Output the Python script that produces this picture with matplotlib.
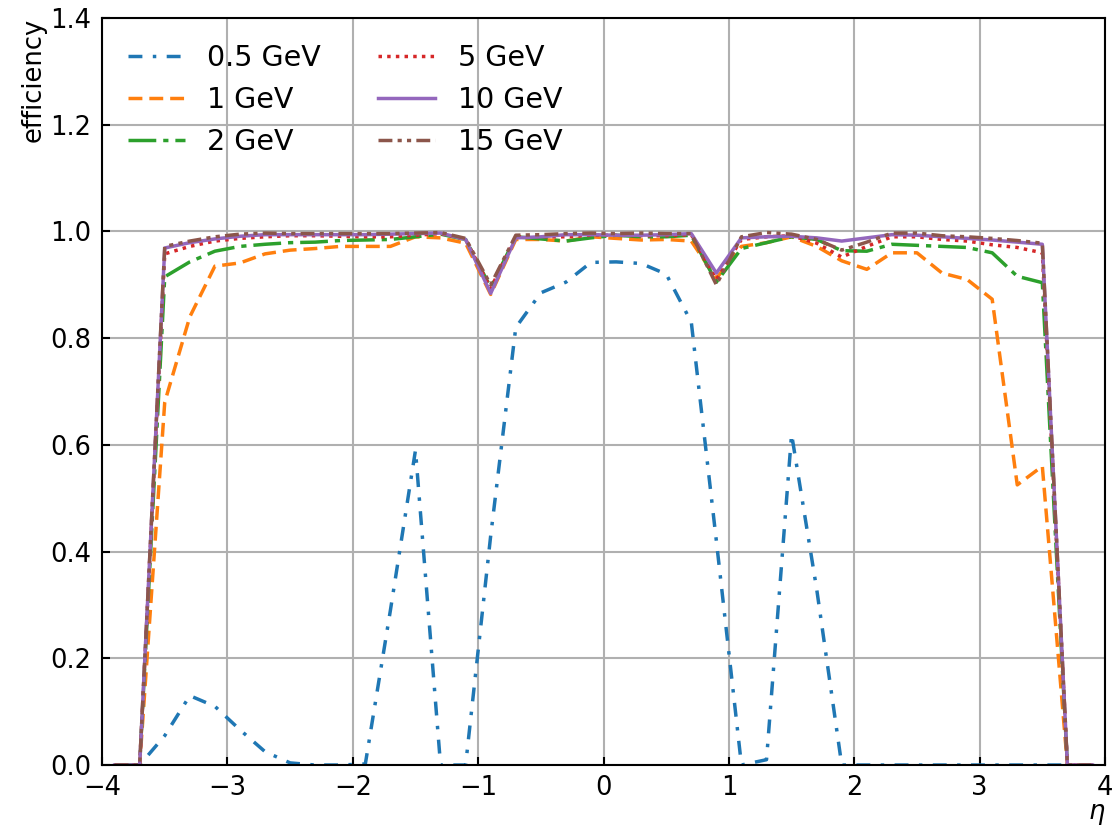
import matplotlib
matplotlib.use("Agg")
import matplotlib.pyplot as plt

eta = [-3.9, -3.7, -3.5, -3.3, -3.1, -2.9, -2.7, -2.5, -2.3, -2.1,
       -1.9, -1.7, -1.5, -1.3, -1.1, -0.9, -0.7, -0.5, -0.3, -0.1,
       0.1, 0.3, 0.5, 0.7, 0.9, 1.1, 1.3, 1.5, 1.7, 1.9,
       2.1, 2.3, 2.5, 2.7, 2.9, 3.1, 3.3, 3.5, 3.7, 3.9]

eff_0p5 = [0.0, 0.0, 0.055, 0.13, 0.11, 0.066, 0.025, 0.004, 0.0, 0.0,
           0.002, 0.29, 0.59, 0.0, 0.0, 0.43, 0.82, 0.885, 0.905, 0.942,
           0.943, 0.94, 0.92, 0.83, 0.42, 0.0, 0.01, 0.62, 0.33, 0.0,
           0.0, 0.0, 0.0, 0.0, 0.0, 0.0, 0.0, 0.0, 0.0, 0.0]

eff_1 = [0.0, 0.0, 0.68, 0.84, 0.935, 0.941, 0.958, 0.965, 0.968, 0.972,
         0.972, 0.972, 0.99, 0.988, 0.978, 0.882, 0.985, 0.985, 0.982, 0.99,
         0.987, 0.984, 0.985, 0.982, 0.912, 0.972, 0.979, 0.99, 0.972, 0.945,
         0.929, 0.96, 0.96, 0.922, 0.91, 0.873, 0.525, 0.56, 0.0, 0.0]

eff_2 = [0.0, 0.0, 0.915, 0.943, 0.963, 0.972, 0.976, 0.979, 0.98, 0.983,
         0.984, 0.985, 0.99, 0.995, 0.985, 0.895, 0.99, 0.986, 0.982, 0.988,
         0.993, 0.99, 0.99, 0.993, 0.905, 0.968, 0.979, 0.99, 0.985, 0.964,
         0.963, 0.976, 0.974, 0.972, 0.97, 0.96, 0.916, 0.904, 0.0, 0.0]

eff_5 = [0.0, 0.0, 0.958, 0.972, 0.982, 0.987, 0.99, 0.992, 0.992, 0.991,
         0.99, 0.99, 0.993, 0.996, 0.985, 0.893, 0.99, 0.99, 0.99, 0.993,
         0.993, 0.992, 0.992, 0.994, 0.91, 0.985, 0.99, 0.992, 0.978, 0.952,
         0.972, 0.99, 0.99, 0.985, 0.982, 0.975, 0.97, 0.96, 0.0, 0.0]

eff_10 = [0.0, 0.0, 0.969, 0.979, 0.986, 0.991, 0.994, 0.994, 0.994, 0.994,
          0.994, 0.995, 0.996, 0.997, 0.985, 0.884, 0.988, 0.99, 0.994, 0.994,
          0.993, 0.993, 0.994, 0.996, 0.922, 0.988, 0.99, 0.991, 0.988, 0.982,
          0.988, 0.994, 0.993, 0.99, 0.987, 0.984, 0.98, 0.976, 0.0, 0.0]

eff_15 = [0.0, 0.0, 0.972, 0.982, 0.99, 0.995, 0.997, 0.996, 0.996, 0.996,
          0.996, 0.996, 0.997, 0.998, 0.987, 0.9, 0.993, 0.994, 0.996, 0.997,
          0.996, 0.997, 0.996, 0.996, 0.9, 0.99, 0.998, 0.995, 0.985, 0.965,
          0.98, 0.997, 0.997, 0.992, 0.99, 0.987, 0.983, 0.978, 0.0, 0.0]

labels = ["0.5 GeV", "1 GeV", "2 GeV", "5 GeV", "10 GeV", "15 GeV"]
colors = ["#1f77b4", "#ff7f0e", "#2ca02c", "#d62728", "#9467bd", "#8c564b"]
styles = [(0, (4, 3, 1, 3)), (0, (4, 2)), (0, (8, 2, 1.5, 2)), (0, (1, 1.5)), "-",
          (0, (4, 1.5, 1.2, 1.5, 1.2, 1.5))]
series = [eff_0p5, eff_1, eff_2, eff_5, eff_10, eff_15]

fig = plt.figure(figsize=(11.19, 8.35), dpi=100)
ax = fig.add_axes([0.0912, 0.0838, 0.8963, 0.8946])

for y, lab, c, ls in zip(series, labels, colors, styles):
    ax.plot(eta, y, color=c, linestyle=ls, linewidth=2.5, label=lab)

ax.set_xlim(-4, 4)
ax.set_ylim(0, 1.4)
ax.set_xticks([-4, -3, -2, -1, 0, 1, 2, 3, 4])
ax.set_yticks([0.0, 0.2, 0.4, 0.6, 0.8, 1.0, 1.2, 1.4])
ax.grid(True, color="#b0b0b0", linewidth=1.5)
ax.set_axisbelow(True)
ax.tick_params(direction="in", labelsize=18.5, length=6, width=1.5)
ax.tick_params(axis="y", pad=8)
ax.tick_params(axis="x", pad=7)
for s in ax.spines.values():
    s.set_linewidth(1.5)
ax.set_xlabel(r"$\eta$", fontsize=18.5, loc="right", labelpad=0)
ax.set_ylabel("efficiency", fontsize=18.5, loc="top", labelpad=2)

ax.legend(loc="upper left", ncol=2, frameon=False, fontsize=20.5)

fig.savefig("out.png", dpi=100)
